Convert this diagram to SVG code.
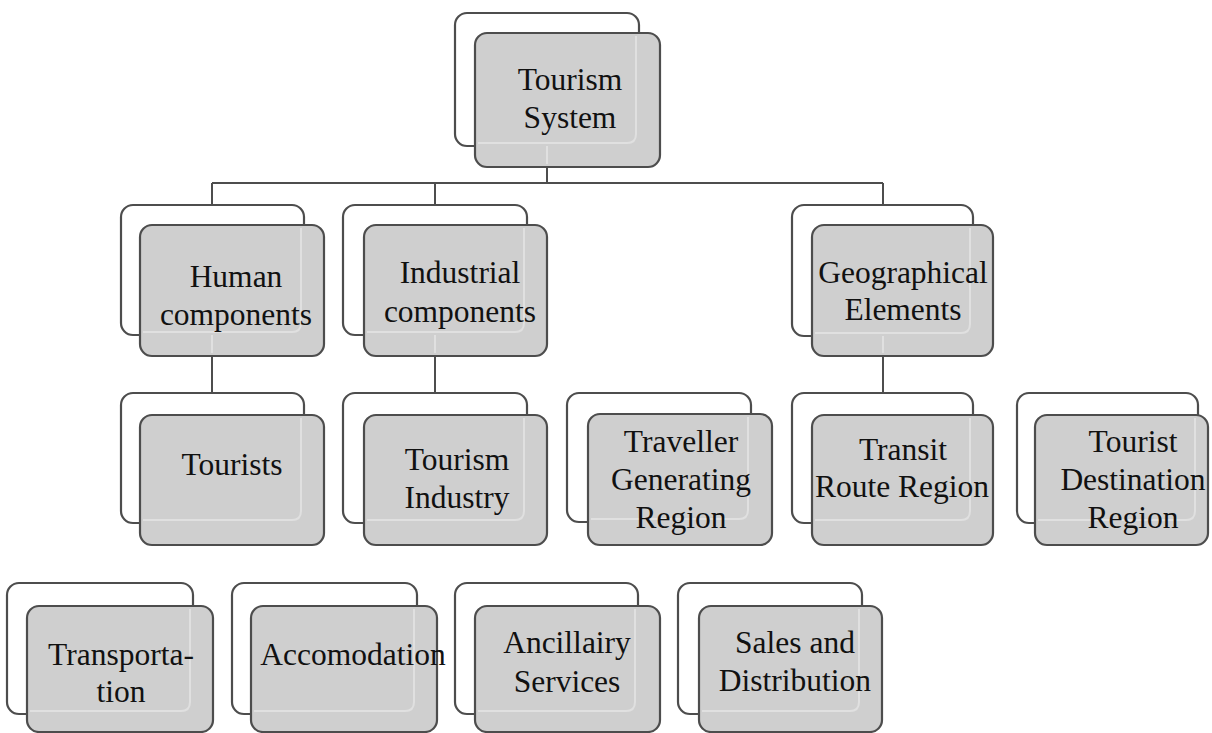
<svg xmlns="http://www.w3.org/2000/svg" width="1212" height="733" viewBox="0 0 1212 733">
<style>
.back{fill:#ffffff;stroke:#4d4d4d;stroke-width:2.2}
.front{fill:#cfcfcf;stroke:#4d4d4d;stroke-width:2.2}
.hl{fill:none;stroke:#e0e0e0;stroke-width:2}
.conn{fill:none;stroke:#4d4d4d;stroke-width:2}
.lbl{font-family:'Liberation Serif','DejaVu Serif',serif;font-size:31.5px;fill:#111111;text-anchor:middle}
</style>
<rect x="0" y="0" width="1212" height="733" fill="#ffffff"/>
<g id="connectors">
<path class="conn" d="M547,167 V183 M212,183 H883 M212,183 V205 M435,183 V205 M883,183 V205"/>
<path class="conn" d="M212,356 V393 M435,356 V393 M883,356 V393"/>
</g>
<g id="n-tourism-system">
<rect class="back" x="455" y="13" width="184" height="133" rx="12"/>
<rect class="front" x="475" y="33" width="185" height="134" rx="12"/>
<path class="hl" d="M636,36 V134 Q636,143 627,143 H478 M547,146 V164"/>
<text class="lbl" font-family="Liberation Serif, serif" x="570" y="90">Tourism</text>
<text class="lbl" font-family="Liberation Serif, serif" x="570" y="128">System</text>
</g>
<g id="n-human">
<rect class="back" x="121" y="205" width="183" height="130" rx="12"/>
<rect class="front" x="140" y="225" width="184" height="131" rx="12"/>
<path class="hl" d="M301,228 V323 Q301,332 292,332 H143 M212,335 V353"/>
<text class="lbl" x="236" y="287">Human</text>
<text class="lbl" x="236" y="325">components</text>
</g>
<g id="n-industrial">
<rect class="back" x="343" y="205" width="184" height="130" rx="12"/>
<rect class="front" x="364" y="225" width="183" height="131" rx="12"/>
<path class="hl" d="M524,228 V323 Q524,332 515,332 H367 M435,335 V353"/>
<text class="lbl" x="460" y="283">Industrial</text>
<text class="lbl" x="460" y="322">components</text>
</g>
<g id="n-geographical">
<rect class="back" x="792" y="205" width="181" height="131" rx="12"/>
<rect class="front" x="812" y="225" width="181" height="131" rx="12"/>
<path class="hl" d="M970,228 V324 Q970,333 961,333 H815 M883,336 V353"/>
<text class="lbl" x="903" y="283">Geographical</text>
<text class="lbl" x="903" y="320">Elements</text>
</g>
<g id="n-tourists">
<rect class="back" x="121" y="393" width="183" height="130" rx="12"/>
<rect class="front" x="140" y="415" width="184" height="130" rx="12"/>
<path class="hl" d="M301,418 V511 Q301,520 292,520 H143"/>
<text class="lbl" x="232" y="475">Tourists</text>
</g>
<g id="n-tourism-industry">
<rect class="back" x="343" y="393" width="184" height="130" rx="12"/>
<rect class="front" x="364" y="415" width="183" height="130" rx="12"/>
<path class="hl" d="M524,418 V511 Q524,520 515,520 H367"/>
<text class="lbl" x="457" y="470">Tourism</text>
<text class="lbl" x="457" y="508">Industry</text>
</g>
<g id="n-traveller">
<rect class="back" x="567" y="393" width="184" height="129" rx="12"/>
<rect class="front" x="588" y="414" width="184" height="131" rx="12"/>
<path class="hl" d="M748,417 V510 Q748,519 739,519 H591"/>
<text class="lbl" x="681" y="452">Traveller</text>
<text class="lbl" x="681" y="490">Generating</text>
<text class="lbl" x="681" y="528">Region</text>
</g>
<g id="n-transit">
<rect class="back" x="792" y="393" width="181" height="130" rx="12"/>
<rect class="front" x="812" y="415" width="181" height="130" rx="12"/>
<path class="hl" d="M970,418 V511 Q970,520 961,520 H815"/>
<text class="lbl" x="903" y="460">Transit</text>
<text class="lbl" x="902" y="497">Route Region</text>
</g>
<g id="n-destination">
<rect class="back" x="1017" y="393" width="181" height="130" rx="12"/>
<rect class="front" x="1035" y="415" width="173" height="130" rx="12"/>
<path class="hl" d="M1195,418 V511 Q1195,520 1186,520 H1038"/>
<text class="lbl" x="1133" y="452">Tourist</text>
<text class="lbl" x="1133" y="490">Destination</text>
<text class="lbl" x="1133" y="528">Region</text>
</g>
<g id="n-transportation">
<rect class="back" x="7" y="583" width="186" height="131" rx="12"/>
<rect class="front" x="27" y="606" width="186" height="126" rx="12"/>
<path class="hl" d="M190,609 V702 Q190,711 181,711 H30"/>
<text class="lbl" x="121" y="665">Transporta-</text>
<text class="lbl" x="121" y="702">tion</text>
</g>
<g id="n-accomodation">
<rect class="back" x="232" y="583" width="185" height="131" rx="12"/>
<rect class="front" x="251" y="606" width="186" height="126" rx="12"/>
<path class="hl" d="M414,609 V702 Q414,711 405,711 H254"/>
<text class="lbl" x="353" y="665">Accomodation</text>
</g>
<g id="n-ancillairy">
<rect class="back" x="455" y="583" width="183" height="131" rx="12"/>
<rect class="front" x="475" y="606" width="185" height="126" rx="12"/>
<path class="hl" d="M635,609 V702 Q635,711 626,711 H478"/>
<text class="lbl" x="567" y="653">Ancillairy</text>
<text class="lbl" x="567" y="692">Services</text>
</g>
<g id="n-sales">
<rect class="back" x="678" y="583" width="184" height="131" rx="12"/>
<rect class="front" x="699" y="606" width="183" height="126" rx="12"/>
<path class="hl" d="M859,609 V702 Q859,711 850,711 H702"/>
<text class="lbl" x="795" y="653">Sales and</text>
<text class="lbl" x="795" y="691">Distribution</text>
</g>
</svg>
